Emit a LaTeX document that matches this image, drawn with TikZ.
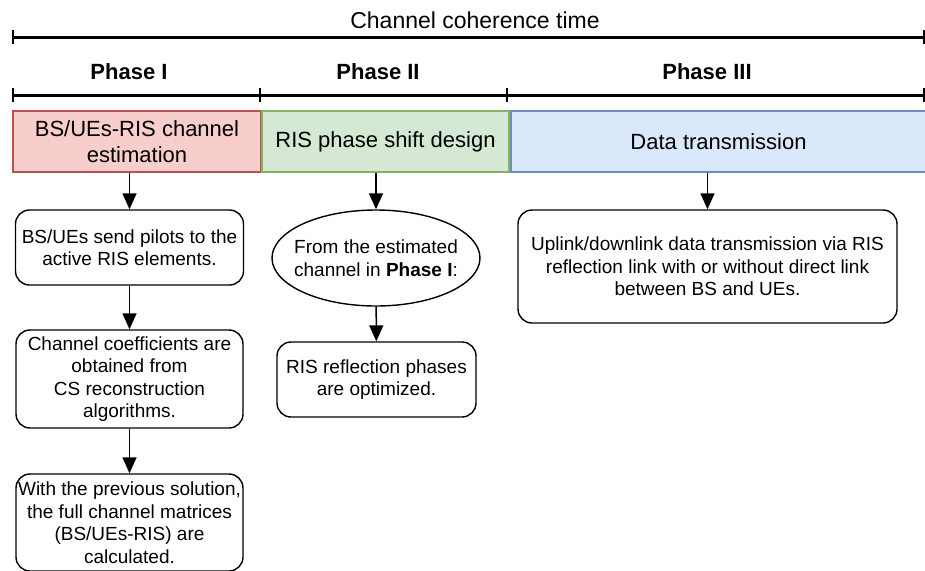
\documentclass[tikz,border=0pt]{standalone}
\usepackage{fontspec}
\setmainfont{Liberation Sans}
\usetikzlibrary{arrows.meta,shapes.geometric}

\definecolor{redfill}{HTML}{F8CECC}
\definecolor{redline}{HTML}{B85450}
\definecolor{greenfill}{HTML}{D5E8D4}
\definecolor{greenline}{HTML}{82B366}
\definecolor{bluefill}{HTML}{DAE8FC}
\definecolor{blueline}{HTML}{6C8EBF}

\tikzset{
  titlefont/.style={font=\fontsize{23}{27}\selectfont},
  bigfont/.style={font=\fontsize{22}{26.5}\selectfont},
  boldfont/.style={font=\fontsize{22}{26.5}\selectfont\bfseries},
  smallfont/.style={font=\fontsize{19}{22.5}\selectfont},
  timeline/.style={line width=3pt},
  tick/.style={line width=2.6pt},
  phasebox/.style={draw, line width=1.3pt, inner sep=0pt, align=center, bigfont},
  stepbox/.style={draw, line width=1.4pt, rounded corners=14pt, inner sep=0pt,
    align=center, smallfont},
  ellbox/.style={draw, ellipse, line width=1.4pt, inner sep=0pt},
  arr/.style={line width=1.5pt, -{Triangle[width=14pt,length=16pt]}},
}

\begin{document}
\begin{tikzpicture}[x=1pt, y=-1pt]
  \useasboundingbox (0,0) rectangle (925,570);

  % overall time axis
  \coordinate (t0) at (13,37);
  \coordinate (t1) at (924,37);
  \draw[timeline] (t0) -- (t1);
  \foreach \c in {t0,t1} \draw[tick] ([yshift=7pt]\c) -- ([yshift=-7pt]\c);
  \node[titlefont] (title) at (475,20) {Channel coherence time};

  % phase axis
  \coordinate (p0) at (13,95);
  \coordinate (p1) at (260,95);
  \coordinate (p2) at (507,95);
  \coordinate (p3) at (924,95);
  \draw[timeline] (p0) -- (p3);
  \foreach \c in {p0,p1,p2,p3} \draw[tick] ([yshift=7pt]\c) -- ([yshift=-7pt]\c);
  \node[boldfont] (ph1) at (129,72) {Phase I};
  \node[boldfont] (ph2) at (378,72) {Phase II};
  \node[boldfont] (ph3) at (707,72) {Phase III};

  % phase headers
  \node[phasebox, fill=redfill, draw=redline, minimum width=248pt, minimum height=61pt]
    (est) at (137,141.5) {BS/UEs-RIS channel\\estimation};
  \node[phasebox, fill=greenfill, draw=greenline, minimum width=247pt, minimum height=61pt]
    (des) at (385.5,141.5) {RIS phase shift design};
  \node[phasebox, fill=bluefill, draw=blueline, minimum width=415pt, minimum height=61pt]
    (dat) at (718.5,141.5) {Data transmission};

  % phase I steps
  \node[stepbox, minimum width=228pt, minimum height=75pt] (n1) at (129.5,247.5)
    {BS/UEs send pilots to the\\active RIS elements.};
  \node[stepbox, minimum width=227pt, minimum height=98pt] (n2) at (129.5,379)
    {Channel coefficients are\\obtained from\\CS reconstruction\\algorithms.};
  \node[stepbox, minimum width=227pt, minimum height=97pt] (n3) at (129.5,522.5)
    {With the previous solution,\\the full channel matrices\\(BS/UEs-RIS) are\\calculated.};

  % phase II steps
  \node[ellbox, minimum width=208pt, minimum height=96pt] (ell) at (376,258) {};
  \node[smallfont, align=center] (elltxt) at (ell.center)
    {From the estimated\\channel in \textbf{Phase I}:};
  \node[stepbox, minimum width=199pt, minimum height=75pt] (n4) at (376.5,379.5)
    {RIS reflection phases\\are optimized.};

  % phase III step
  \node[stepbox, minimum width=379pt, minimum height=113pt] (n5) at (707.5,266.5)
    {Uplink/downlink data transmission via RIS\\reflection link with or without direct link\\between BS and UEs.};

  % connectors
  \draw[arr] (n1.north |- est.south) -- (n1.north);
  \draw[arr] (n1) -- (n2);
  \draw[arr] (n2) -- (n3);
  \draw[arr] (ell.north |- des.south) -- (ell.north);
  \draw[arr] (ell) -- (n4);
  \draw[arr] (n5.north |- dat.south) -- (n5.north);
\end{tikzpicture}
\end{document}
